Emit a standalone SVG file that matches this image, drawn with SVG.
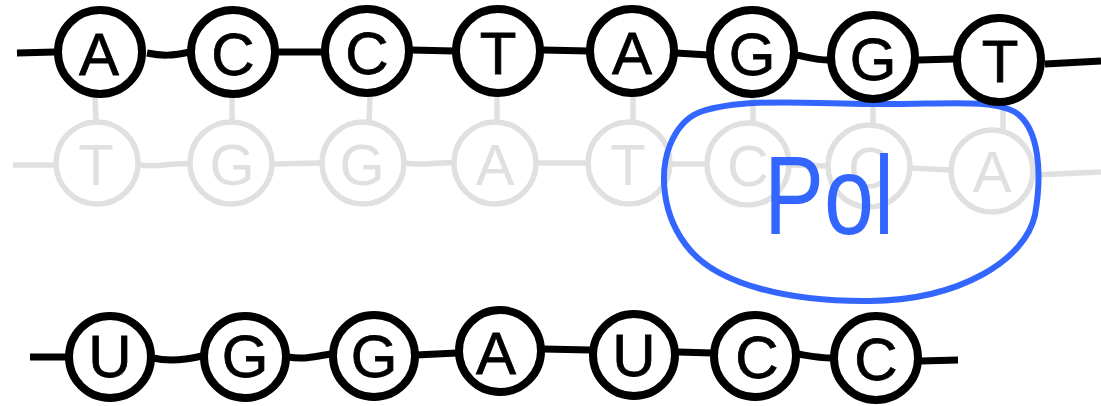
<svg xmlns="http://www.w3.org/2000/svg" width="1101" height="406" viewBox="0 0 1101 406">
<style>
  .bk { fill: #ffffff; stroke: #000000; stroke-width: 8; }
  .gy { fill: #ffffff; stroke: #e0e0e0; stroke-width: 5.5; }
  .lk { fill: none; stroke: #000000; stroke-width: 7; stroke-linecap: butt; }
  .glk { fill: none; stroke: #e0e0e0; stroke-width: 5.5; }
  .bt { font-family: "Liberation Sans", Arial, sans-serif; font-size: 60px; fill: #000000; stroke: #000000; stroke-width: 0.8; text-anchor: middle; }
  .gt { font-family: "Liberation Sans", Arial, sans-serif; font-size: 58px; fill: #e0e0e0; text-anchor: middle; }
  .pol { fill: none; stroke: #3366ff; stroke-width: 6; }
  .polt { font-family: "Liberation Sans", Arial, sans-serif; font-size: 112px; fill: #3366ff; }
</style>
<rect width="1101" height="406" fill="#ffffff"/>

<g id="connectors">
  <path class="glk" d="M13,165 L55,165"/>
  <path class="glk" d="M140,165 C160,168 170,162 190,164"/>
  <path class="glk" d="M273,164 L322,163"/>
  <path class="glk" d="M404,163 C425,166 435,162 454,163"/>
  <path class="glk" d="M536,163 L588,163"/>
  <path class="glk" d="M670,164 L707,164"/>
  <path class="glk" d="M789,165 L828,166"/>
  <path class="glk" d="M910,168 L951,170"/>
  <path class="glk" d="M1033,175 L1101,172"/>
  <path class="glk" d="M95,95 L96,122"/>
  <path class="glk" d="M232,96 L232,122"/>
  <path class="glk" d="M370,96 L369,122"/>
  <path class="glk" d="M497,95 L497,122"/>
  <path class="glk" d="M633,95 L633,122"/>
  <path class="glk" d="M753,95 L753,122"/>
  <path class="glk" d="M873,100 L873,124"/>
  <path class="glk" d="M1003,103 L1003,129"/>
  <path class="lk" d="M17,53 L55,52"/>
  <path class="lk" d="M147,53 C162,56 172,56 190,52"/>
  <path class="lk" d="M276,52 L324,52"/>
  <path class="lk" d="M411,50 L454,51"/>
  <path class="lk" d="M543,50 L589,51"/>
  <path class="lk" d="M676,53 L709,55"/>
  <path class="lk" d="M796,55 C808,57 815,60 829,60"/>
  <path class="lk" d="M918,60 L955,59"/>
  <path class="lk" d="M1045,64 L1101,61"/>
  <path class="lk" d="M30,357 L67,357"/>
  <path class="lk" d="M153,358 C170,362 185,360 202,356"/>
  <path class="lk" d="M288,357 C305,360 315,356 332,354"/>
  <path class="lk" d="M416,355 L457,353"/>
  <path class="lk" d="M543,349 L590,350"/>
  <path class="lk" d="M678,352 L712,353"/>
  <path class="lk" d="M798,354 C810,356 818,358 832,358"/>
  <path class="lk" d="M921,361 L958,360"/>
</g>

<g id="g1"><circle class="gy" cx="97" cy="163" r="41"/><text class="gt" x="96" y="185">T</text></g>
<g id="g2"><circle class="gy" cx="231" cy="163" r="41"/><text class="gt" x="232" y="185">G</text></g>
<g id="g3"><circle class="gy" cx="363" cy="163" r="41"/><text class="gt" x="362" y="185">G</text></g>
<g id="g4"><circle class="gy" cx="495" cy="163" r="41"/><text class="gt" x="495" y="185">A</text></g>
<g id="g5"><circle class="gy" cx="629" cy="163" r="41"/><text class="gt" x="628" y="185">T</text></g>
<g id="g6"><circle class="gy" cx="748" cy="164" r="41"/><text class="gt" x="748" y="186">C</text></g>
<g id="g7"><circle class="gy" cx="869" cy="166" r="41"/><text class="gt" x="869" y="188">C</text></g>
<g id="g8"><circle class="gy" cx="992" cy="171" r="41"/><text class="gt" x="992" y="192">A</text></g>

<g id="pol">
  <path class="pol" d="M700,112 C740,98 800,103 870,104 C940,105 990,98 1015,112 C1040,128 1042,175 1035,215 C1025,260 960,300 870,301 C790,302 720,285 690,250 C660,215 660,170 670,145 C678,125 690,116 700,112 Z"/>
  <text class="polt" x="764" y="234" textLength="130" lengthAdjust="spacingAndGlyphs">Pol</text>
</g>

<g id="t1"><circle class="bk" cx="100" cy="52" r="42"/><text class="bt" x="99" y="75">A</text></g>
<g id="t2"><circle class="bk" cx="233" cy="52" r="42"/><text class="bt" x="233" y="75">C</text></g>
<g id="t3"><circle class="bk" cx="367" cy="51" r="42"/><text class="bt" x="367" y="74">C</text></g>
<g id="t4"><circle class="bk" cx="498" cy="51" r="42"/><text class="bt" x="498" y="74">T</text></g>
<g id="t5"><circle class="bk" cx="632" cy="51" r="42"/><text class="bt" x="632" y="74">A</text></g>
<g id="t6"><circle class="bk" cx="752" cy="52" r="42"/><text class="bt" x="752" y="75">G</text></g>
<g id="t7"><circle class="bk" cx="873" cy="57" r="42"/><text class="bt" x="873" y="80">G</text></g>
<g id="t8"><circle class="bk" cx="999" cy="60" r="42"/><text class="bt" x="1000" y="82">T</text></g>

<g id="r1"><circle class="bk" cx="110" cy="357" r="41"/><text class="bt" x="110" y="377">U</text></g>
<g id="r2"><circle class="bk" cx="245" cy="357" r="41"/><text class="bt" x="245" y="377">G</text></g>
<g id="r3"><circle class="bk" cx="374" cy="356" r="41"/><text class="bt" x="374" y="377">G</text></g>
<g id="r4"><circle class="bk" cx="500" cy="351" r="41"/><text class="bt" x="496" y="374">A</text></g>
<g id="r5"><circle class="bk" cx="634" cy="355" r="41"/><text class="bt" x="634" y="376">U</text></g>
<g id="r6"><circle class="bk" cx="755" cy="356" r="41"/><text class="bt" x="757" y="378">C</text></g>
<g id="r7"><circle class="bk" cx="876" cy="358" r="42"/><text class="bt" x="876" y="380">C</text></g>
</svg>
